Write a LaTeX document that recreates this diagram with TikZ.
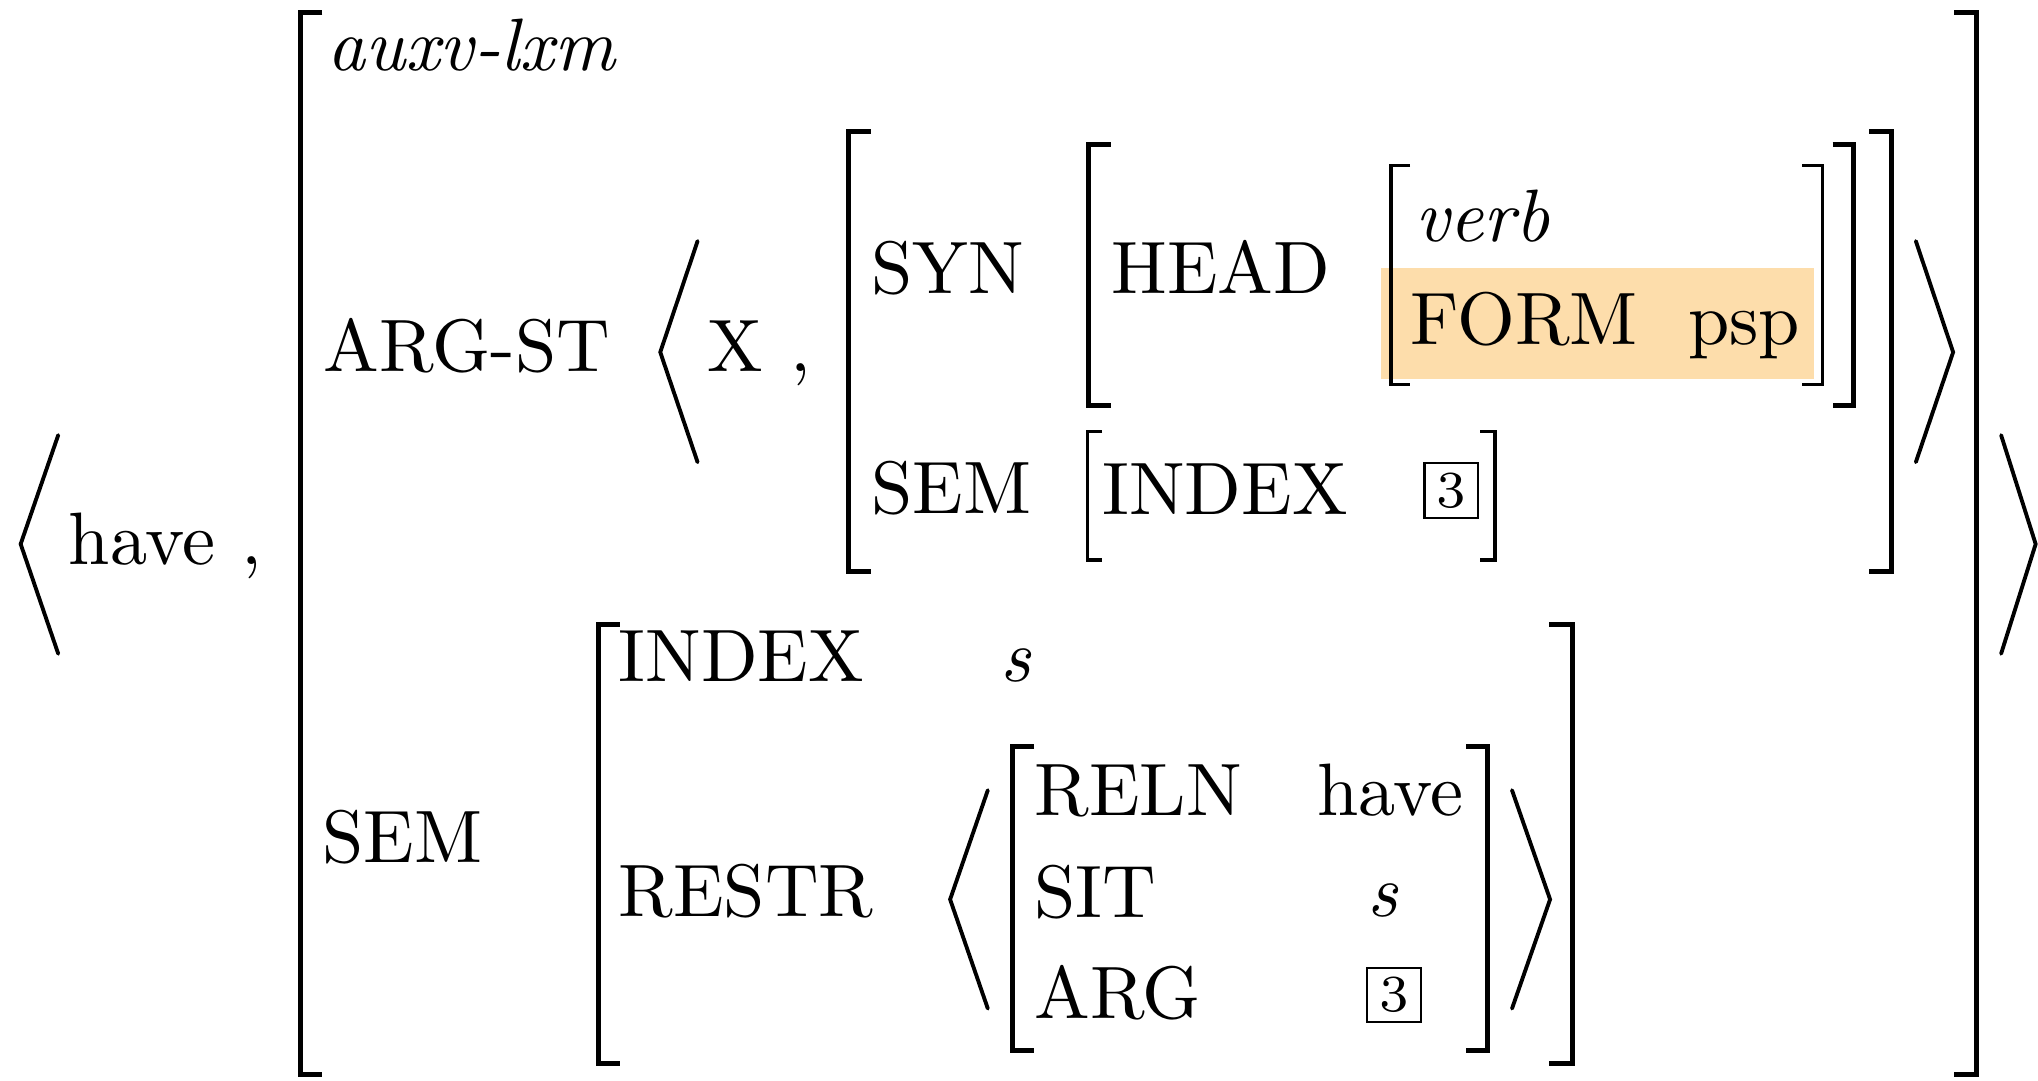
\documentclass[tikz,border=0pt]{standalone}
\usepackage{tikz}

\definecolor{formhl}{RGB}{253,221,171}

% avm brackets: a square bracket is a stem with two serifs
\newcommand\avmLeft[5][thickbrk]{\draw[#1] (#5,#3) -- (#2,#3) -- (#2,#4) -- (#5,#4);}
\newcommand\avmRight[5][thickbrk]{\draw[#1] (#5,#3) -- (#2,#3) -- (#2,#4) -- (#5,#4);}

\tikzset{
  lbl/.style={anchor=base west, inner sep=0pt, outer sep=0pt},
  thickbrk/.style={line width=0.66pt, line join=miter},
  thinbrk/.style={line width=0.45pt, line join=miter},
  anglebrk/.style={line width=0.52pt, line cap=round, line join=miter},
  tagbox/.style={draw, line width=0.3pt, inner sep=0pt, minimum width=7.2pt,
                 minimum height=7.35pt, font=\scriptsize},
}

\begin{document}
\begin{tikzpicture}[x=0.175pt, y=-0.175pt]
\useasboundingbox (0,0) rectangle (1568,831);

% highlighted FORM row
\fill[formhl] (1062.6,206.5) rectangle (1395.7,291.9);

% outer list < have , [...] >
\draw[anglebrk] (44.8,334.8) -- (15.9,418.6) -- (44.8,503);
\draw[anglebrk] (1539.6,334.8) -- (1566.2,418.6) -- (1539.6,503);
\node[lbl] (have1) at (53,434) {have};
\node[lbl] (comma1) at (186,434) {,};

% main matrix
\avmLeft{231}{9.6}{826.7}{248}
\avmRight{1521}{9.6}{826.7}{1503.5}
\node[lbl] (auxv) at (252,54) {\textit{auxv-lxm}};

% ARG-ST row
\node[lbl] (argst) at (249,286) {ARG-ST};
\draw[anglebrk] (536.7,185.5) -- (508,271) -- (536.7,355.6);
\draw[anglebrk] (1474,185.5) -- (1502.7,271) -- (1474,355.6);
\node[lbl] (xarg) at (544,286) {X};
\node[lbl] (comma2) at (608,286) {,};

% SYN / SEM matrix of the second argument
\avmLeft{653}{101.3}{440}{670}
\avmRight{1455.4}{101.3}{440}{1438}
\node[lbl] (syn) at (670.5,226) {SYN};
\node[lbl] (sem1) at (670.5,395) {SEM};

% HEAD matrix
\avmLeft{837.5}{111}{312}{854.6}
\avmRight{1426}{111}{312}{1410}
\node[lbl] (head) at (855,225.5) {HEAD};

% verb matrix
\avmLeft[thinbrk]{1070.3}{127.3}{295.7}{1085}
\avmRight[thinbrk]{1402.1}{127.3}{295.7}{1386.5}
\node[lbl] (verb) at (1089,186) {\textit{verb}};
\node[lbl] (form) at (1085.5,264.7) {FORM};
\node[lbl] (psp) at (1299,264.7) {psp};

% INDEX matrix of the second argument
\avmLeft[thinbrk]{836.5}{332}{431}{848}
\avmRight[thinbrk]{1150.3}{332}{431}{1138.7}
\node[lbl] (index1) at (848,395.5) {INDEX};
\node[tagbox] (tag1) at (1116.5,377.3) {3};

% SEM row of the main matrix
\node[lbl] (sem2) at (248,663.6) {SEM};
\avmLeft{460.5}{480.5}{818.4}{477}
\avmRight{1209.5}{480.5}{818.4}{1192}
\node[lbl] (index2) at (476,524) {INDEX};
\node[lbl] (sidx) at (770,524) {\textit{s}};
\node[lbl] (restr) at (476,705) {RESTR};

% RESTR list
\draw[anglebrk] (760,608) -- (731,692) -- (760,776);
\draw[anglebrk] (1163.3,608) -- (1192.6,692) -- (1163.3,776);
\avmLeft{779}{574.5}{808}{795.6}
\avmRight{1144.3}{574.5}{808}{1128}
\node[lbl] (reln) at (796,627.5) {RELN};
\node[lbl] (have2) at (1013.5,627.5) {have};
\node[lbl] (sit) at (796,706) {SIT};
\node[lbl] (ssit) at (1052.5,705.5) {\textit{s}};
\node[lbl] (argl) at (796,783.5) {ARG};
\node[tagbox] (tag2) at (1072.5,765.5) {3};
\end{tikzpicture}
\end{document}
